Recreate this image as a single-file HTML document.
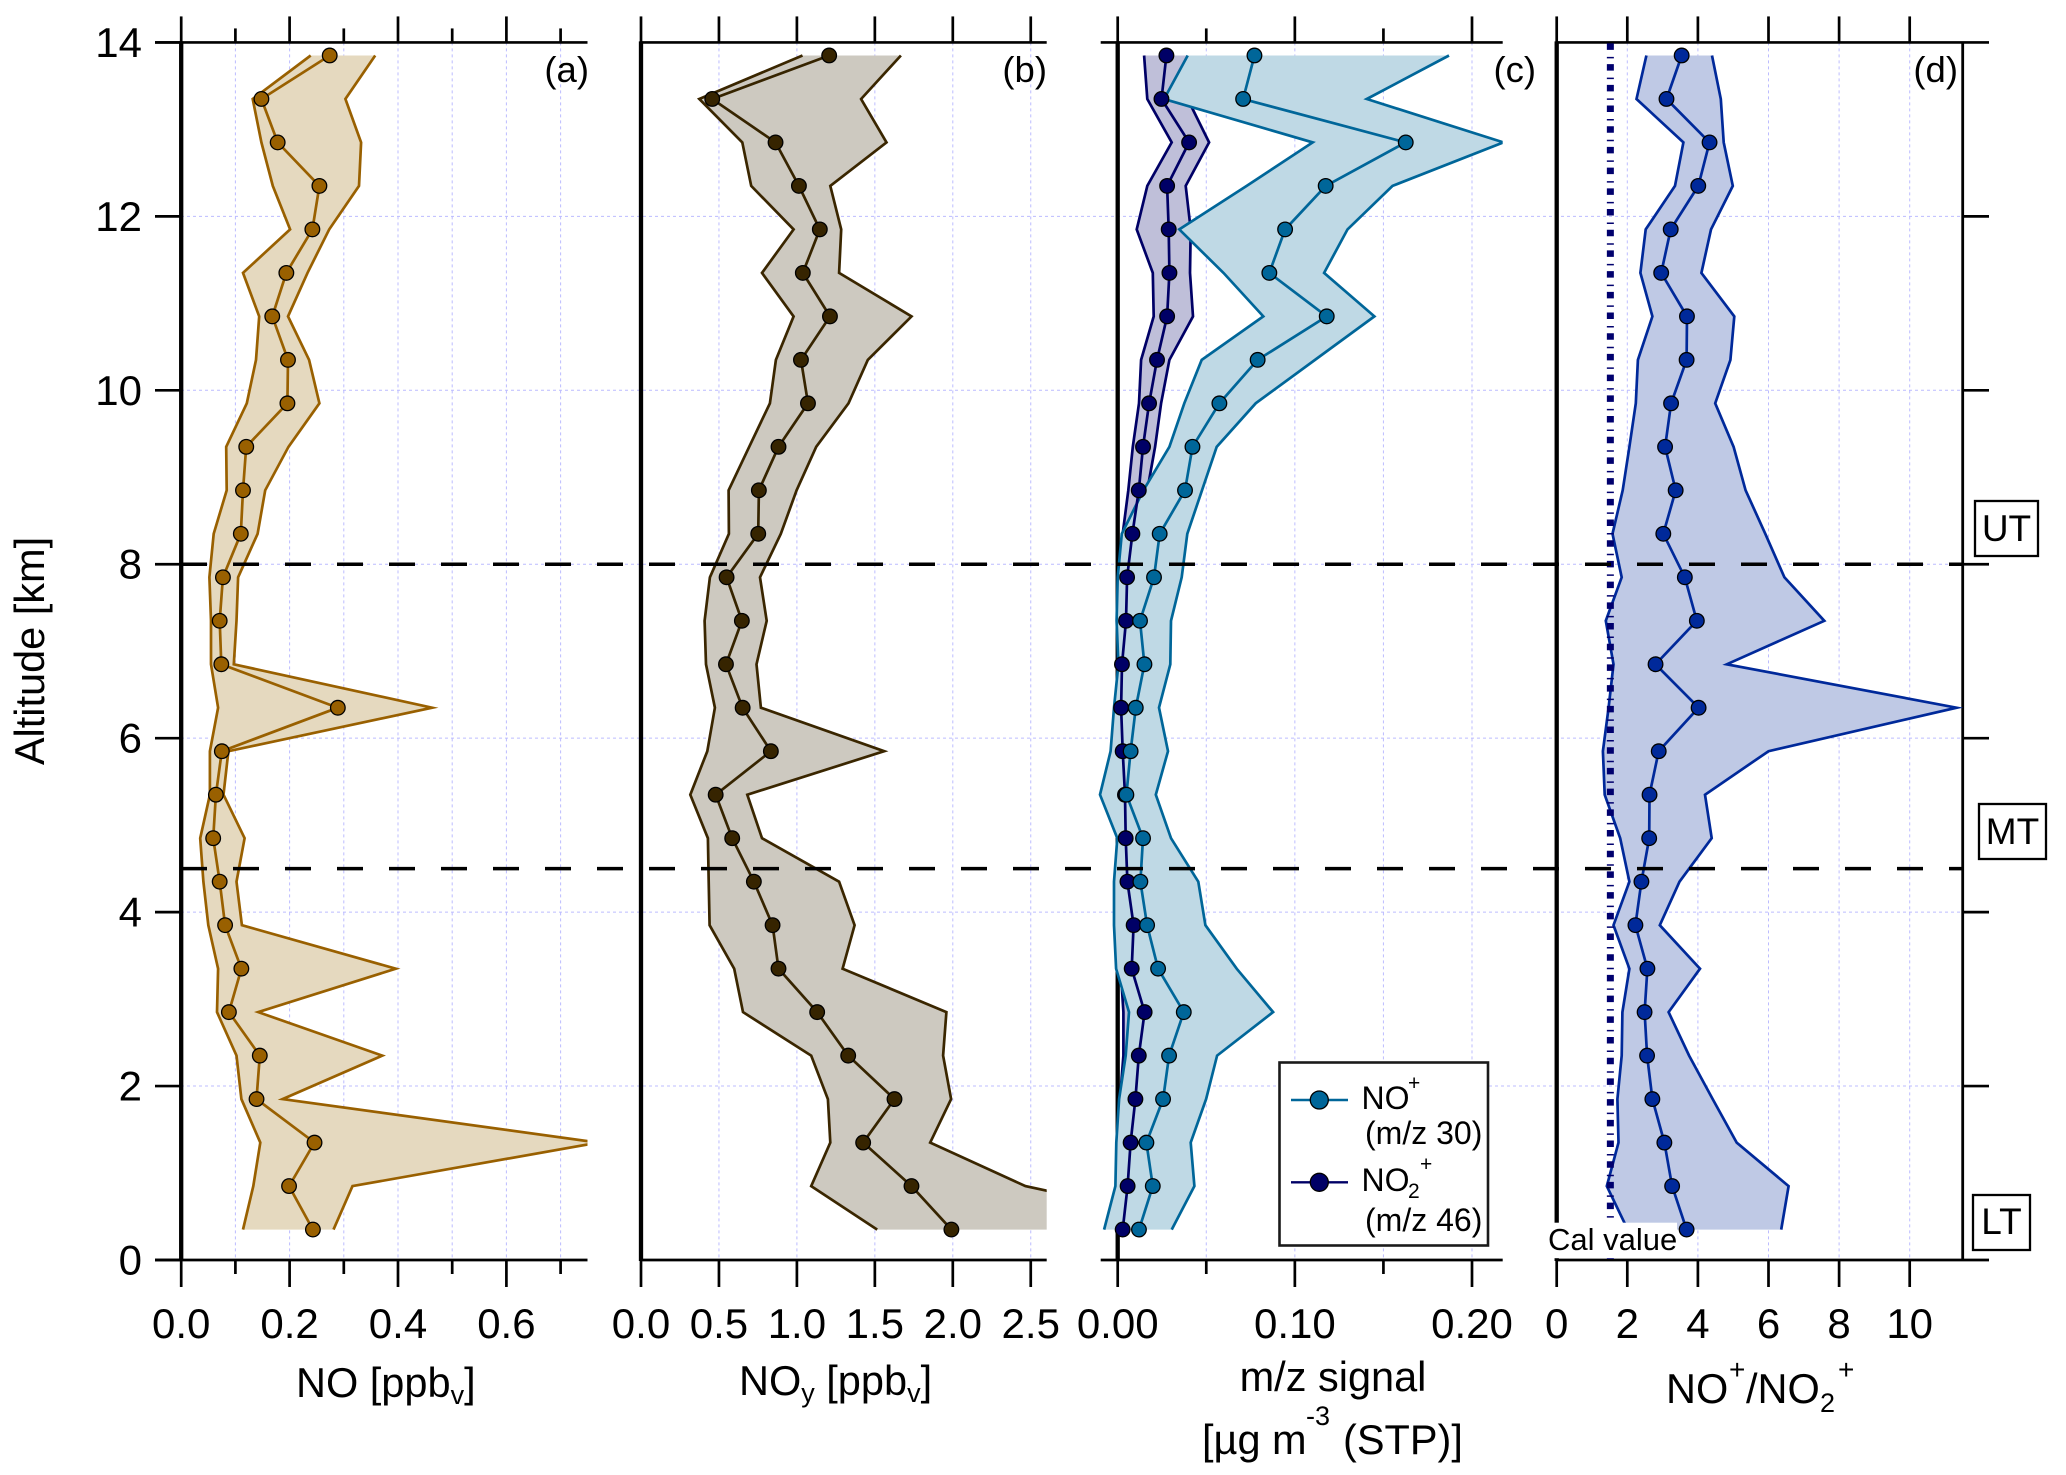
<!DOCTYPE html>
<html lang="en">
<head>
<meta charset="utf-8">
<title>Altitude profiles of NO, NOy, m/z signal and NO+/NO2+</title>
<style>
html,body{margin:0;padding:0;background:#fff;}
svg{display:block;}
text{font-family:"Liberation Sans",Arial,sans-serif;fill:#000;}
</style>
</head>
<body>
<svg id="chart" width="2066" height="1475" viewBox="0 0 2066 1475">
  <defs>
    <clipPath id="clip-a"><rect x="150" y="40" width="437.5" height="1222"/></clipPath>
    <clipPath id="clip-b"><rect x="630" y="40" width="416.7" height="1222"/></clipPath>
    <clipPath id="clip-c"><rect x="1090" y="40" width="412.7" height="1222"/></clipPath>
  </defs>
  <g id="layer-grid"></g>
  <g id="layer-axes"></g>
  <g id="layer-series"></g>
  <g id="layer-top"></g>

  <text transform="translate(44,651) rotate(-90)" text-anchor="middle" font-size="41.5">Altitude [km]</text>

  <text x="296" y="1397" font-size="41.5">NO [ppb<tspan font-size="27" dy="7">v</tspan><tspan dy="-7">]</tspan></text>
  <text x="739" y="1395" font-size="41.5">NO<tspan font-size="27" dy="7">y</tspan><tspan dy="-7"> [ppb</tspan><tspan font-size="27" dy="7">v</tspan><tspan dy="-7">]</tspan></text>
  <text x="1333" y="1391" text-anchor="middle" font-size="41.5">m/z signal</text>
  <text x="1202" y="1454" font-size="41.5">[µg m</text>
  <text x="1306" y="1425" font-size="27">-3</text>
  <text x="1343" y="1454" font-size="41.5">(STP)]</text>
  <text x="1666" y="1403" font-size="41.5">NO</text>
  <text x="1729" y="1379" font-size="28">+</text>
  <text x="1746" y="1403" font-size="41.5">/NO</text>
  <text x="1820" y="1412" font-size="27">2</text>
  <text x="1838" y="1379" font-size="28">+</text>

  <text x="589" y="82" text-anchor="end" font-size="36.5">(a)</text>
  <text x="1047" y="82" text-anchor="end" font-size="36.5">(b)</text>
  <text x="1536" y="82" text-anchor="end" font-size="36.5">(c)</text>
  <text x="1958" y="82" text-anchor="end" font-size="36.5">(d)</text>

  <g>
    <rect x="1975" y="501" width="63" height="55" fill="#fff" stroke="#000" stroke-width="2.3"/>
    <text x="2006.5" y="541" text-anchor="middle" font-size="37">UT</text>
  </g>
  <g>
    <rect x="1979" y="804" width="67" height="55" fill="#fff" stroke="#000" stroke-width="2.3"/>
    <text x="2012.5" y="844" text-anchor="middle" font-size="37">MT</text>
  </g>
  <g>
    <rect x="1973" y="1195" width="57" height="55" fill="#fff" stroke="#000" stroke-width="2.3"/>
    <text x="2001.5" y="1234" text-anchor="middle" font-size="37">LT</text>
  </g>

  <g>
    <rect x="1279.5" y="1062.5" width="208.5" height="183" fill="#fff" stroke="#1a1a1a" stroke-width="2.6"/>
    <g>
      <line x1="1291" y1="1100" x2="1348" y2="1100" stroke="#006699" stroke-width="2.4"/>
      <circle cx="1319.3" cy="1100" r="9" fill="#006699" stroke="#000" stroke-width="1.3"/>
      <text x="1361.5" y="1109" font-size="32">NO</text>
      <text x="1408" y="1090" font-size="21">+</text>
      <text x="1365" y="1144" font-size="32">(m/z 30)</text>
    </g>
    <g>
      <line x1="1291" y1="1182.3" x2="1348" y2="1182.3" stroke="#000066" stroke-width="2.4"/>
      <circle cx="1319.3" cy="1182.3" r="9" fill="#000066" stroke="#000" stroke-width="1.3"/>
      <text x="1361.5" y="1191" font-size="32">NO</text>
      <text x="1408" y="1198" font-size="21">2</text>
      <text x="1420" y="1171" font-size="21">+</text>
      <text x="1365" y="1231" font-size="32">(m/z 46)</text>
    </g>
  </g>
</svg>

<script>
// Altitude bins shared by all panels (km), top to bottom
const altitudeKm = [13.85,13.35,12.85,12.35,11.85,11.35,10.85,10.35,9.85,9.35,8.85,8.35,7.85,7.35,6.85,6.35,5.85,5.35,4.85,4.35,3.85,3.35,2.85,2.35,1.85,1.35,0.85,0.35];
const altitudeTicks = [0,2,4,6,8,10,12,14];
const altitudeGrid = [2,4,6,8,10,12];
const boundaryAltitudes = [8,4.5];

// Panel (a) NO [ppbv]
const noMedian = [.274,.148,.178,.255,.242,.194,.168,.197,.196,.120,.114,.110,.077,.071,.074,.289,.075,.064,.059,.071,.081,.111,.088,.145,.139,.246,.199,.243];
const noLow = [.239,.132,.148,.169,.201,.114,.144,.138,.121,.083,.084,.060,.052,.055,.055,.068,.053,.053,.035,.041,.050,.068,.066,.102,.111,.146,.133,.114];
const noHigh = [.358,.303,.332,.328,.273,.233,.197,.236,.255,.198,.155,.141,.105,.102,.097,.463,.087,.078,.117,.102,.112,.396,.142,.371,.187,.77,.316,.281];
const noMajorTicks = [0,.2,.4,.6];
const noMinorTicks = [.1,.3,.5,.7];
const noTickLabels = ['0.0','0.2','0.4','0.6'];

// Panel (b) NOy [ppbv]
const noyMedian = [1.207,.457,.863,1.013,1.147,1.038,1.212,1.026,1.071,.882,.756,.752,.549,.647,.545,.652,.833,.479,.585,.724,.844,.882,1.130,1.329,1.626,1.425,1.735,1.991];
const noyLow = [1.036,.374,.650,.707,.979,.776,.979,.865,.827,.694,.562,.564,.442,.408,.417,.474,.425,.316,.429,.434,.440,.598,.654,1.092,1.199,1.214,1.092,1.515];
const noyHigh = [1.667,1.412,1.575,1.214,1.284,1.271,1.735,1.455,1.331,1.124,.998,.897,.763,.806,.741,.769,1.560,.682,.776,1.271,1.370,1.293,1.959,1.938,1.989,1.855,2.466,3.76];
const noyMajorTicks = [0,.5,1,1.5,2,2.5];
const noyTickLabels = ['0.0','0.5','1.0','1.5','2.0','2.5'];

// Panel (c) m/z 30 NO+ signal
const mz30Median = [.0772,.0708,.1626,.1174,.0945,.0856,.1180,.0790,.0574,.0422,.0380,.0237,.0205,.0126,.0151,.0102,.0073,.0049,.0143,.0128,.0166,.0228,.0373,.0290,.0256,.0162,.0198,.0120];
const mz30Low = [.0395,.0262,.1101,.0728,.0348,.0597,.0822,.0474,.0376,.0292,.0145,.0023,.0000,-.0006,.0004,-.0021,-.0040,-.0100,-.0002,-.0021,-.0021,-.0009,.0064,.0045,.0008,-.0008,-.0013,-.0077];
const mz30High = [.187,.1406,.2177,.1551,.1297,.1165,.1449,.1114,.0779,.0559,.0476,.0393,.0361,.0301,.0297,.0233,.0284,.0215,.0301,.0455,.0495,.0672,.0877,.0561,.0499,.0412,.0433,.0305];

// Panel (c) m/z 46 NO2+ signal
const mz46Median = [.0275,.0247,.0403,.0279,.0288,.0292,.0279,.0222,.0177,.0143,.0119,.0083,.0053,.0047,.0024,.0019,.0028,.0041,.0045,.0055,.0090,.0079,.0152,.0119,.0100,.0073,.0056,.0028];
const mz46Low = [.0149,.0167,.0305,.0167,.0107,.0198,.0203,.0132,.0120,.0085,.0060,.0028,.0002,.0004,0,0,0,0,.0004,.0004,.0004,.0017,.0032,.0032,.0013,.0004,.0004,.0004];
const mz46High = [.0395,.0395,.0516,.0384,.0412,.0408,.0425,.0292,.0245,.0211,.0167,.0107,.0079,.0079,.0056,.0047,.0056,.007,.0075,.0085,.012,.0113,.0188,.016,.0141,.0113,.0094,.0066];
const mzMajorTicks = [0,.1,.2];
const mzMinorTicks = [.05,.15];
const mzTickLabels = ['0.00','0.10','0.20'];

// Panel (d) NO+/NO2+ ratio
const ratioMedian = [3.54,3.11,4.33,4.01,3.23,2.96,3.69,3.68,3.24,3.07,3.37,3.02,3.63,3.97,2.80,4.02,2.89,2.63,2.62,2.40,2.23,2.57,2.49,2.56,2.71,3.05,3.27,3.68];
const ratioLow = [2.54,2.26,3.59,3.35,2.52,2.37,2.71,2.30,2.24,2.06,1.87,1.58,1.84,1.39,1.61,1.47,1.31,1.36,1.80,2.06,1.61,2.06,1.86,1.84,1.72,1.75,1.42,2.01];
const ratioHigh = [4.40,4.65,4.73,4.99,4.37,4.10,5.03,4.92,4.49,5.01,5.35,5.91,6.45,7.58,4.82,11.33,6.00,4.20,4.39,3.48,2.92,4.06,3.17,3.75,4.42,5.10,6.57,6.36];
const ratioCalValue = 1.52;
const ratioMajorTicks = [0,2,4,6,8,10];
const ratioTickLabels = ['0','2','4','6','8','10'];

// Axis functions
function yScale(km){ return 1260 - 86.97*km; }
function xNO(v){ return 181.2 + 542*v; }
function xNOy(v){ return 641 + 155.9*v; }
function xMz(v){ return 1117.7 + 1771.5*v; }
function xRatio(v){ return 1556.7 + 35.3*v; }

const svg = document.getElementById('chart');
const NS = svg.namespaceURI;
const layerGrid = document.getElementById('layer-grid');
const layerAxes = document.getElementById('layer-axes');
const layerSeries = document.getElementById('layer-series');
const layerTop = document.getElementById('layer-top');

function shape(parent, tag, name){
  const el = document.createElementNS(NS, tag);
  
  
  parent.appendChild(el);
  return el;
}
function seg(parent, name, x1, y1, x2, y2, color, width, dash){
  const el = shape(parent, 'line', name);
  el.setAttribute('x1', x1);
  el.setAttribute('y1', y1);
  el.setAttribute('x2', x2);
  el.setAttribute('y2', y2);
  el.setAttribute('stroke', color);
  el.setAttribute('stroke-width', width);
  if (dash) el.setAttribute('stroke-dasharray', dash);
  return el;
}
function label(parent, name, x, y, anchor, size, str){
  const el = shape(parent, 'text', name);
  el.setAttribute('x', x);
  el.setAttribute('y', y);
  el.setAttribute('text-anchor', anchor);
  el.setAttribute('font-size', size);
  el.textContent = str;
  return el;
}
const yTop = yScale(14), yBot = yScale(0);
const gridColor = '#bcbcff';
const axisWidth = 2.7;

// Horizontal grid and altitude ticks
altitudeGrid.forEach(function(km){
  seg(layerGrid, 'horizontal-grid-' + km, 181, yScale(km), 1963, yScale(km), gridColor, 1, '3 3');
  seg(layerAxes, 'right-tick-' + km, 1963, yScale(km), 1989, yScale(km), '#000', axisWidth);
});
altitudeTicks.forEach(function(km){
  seg(layerAxes, 'left-tick-' + km, 155, yScale(km), 181, yScale(km), '#000', axisWidth);
  label(layerAxes, 'y-tick-label-' + km, 142, yScale(km) + 14.5, 'end', 42, String(km));
});

// Panel frames, ticks, vertical grid
function drawPanel(id, xFn, axisLeft, axisRight, majors, minors, labels){
  const x0 = xFn(0);
  seg(layerAxes, id + '-top-axis', axisLeft, yTop, axisRight, yTop, '#000', axisWidth);
  seg(layerAxes, id + '-bottom-axis', axisLeft, yBot, axisRight, yBot, '#000', axisWidth);
  seg(layerAxes, id + '-zero-axis', x0, yTop - 1, x0, yBot + 1, '#000', 4.3);
  majors.forEach(function(v, i){
    const x = xFn(v);
    if (v !== 0) seg(layerGrid, id + '-vertical-grid-' + v, x, yTop, x, yBot, gridColor, 1, '3 3');
    seg(layerAxes, id + '-top-tick-' + v, x, yTop - 26, x, yTop, '#000', axisWidth);
    seg(layerAxes, id + '-bottom-tick-' + v, x, yBot, x, yBot + 27, '#000', axisWidth);
    label(layerAxes, id + '-x-tick-label-' + v, x, 1338, 'middle', 42, labels[i]);
  });
  minors.forEach(function(v){
    const x = xFn(v);
    seg(layerGrid, id + '-vertical-grid-' + v, x, yTop, x, yBot, gridColor, 1, '3 3');
    seg(layerAxes, id + '-top-minor-tick-' + v, x, yTop - 14, x, yTop, '#000', axisWidth);
    seg(layerAxes, id + '-bottom-minor-tick-' + v, x, yBot, x, yBot + 14, '#000', axisWidth);
  });
}
drawPanel('panel-a', xNO, 155, 587.5, noMajorTicks, noMinorTicks, noTickLabels);
drawPanel('panel-b', xNOy, 641, 1046.7, noyMajorTicks, [], noyTickLabels);
drawPanel('panel-c', xMz, 1100.7, 1502.7, mzMajorTicks, mzMinorTicks, mzTickLabels);
drawPanel('panel-d', xRatio, 1556.7, 1989, ratioMajorTicks, [], ratioTickLabels);
seg(layerAxes, 'panel-d-right-axis', 1962.7, yTop, 1962.7, yBot, '#000', 2.8);

function pts(xFn, values){
  return values.map(function(v, i){ return xFn(v).toFixed(1) + ',' + yScale(altitudeKm[i]).toFixed(1); });
}
function drawBand(id, xFn, low, high, fill, stroke, clip){
  const g = shape(layerSeries, 'g', id + '-band');
  if (clip) g.setAttribute('clip-path', 'url(#' + clip + ')');
  const poly = shape(g, 'polygon', id + '-band-fill');
  poly.setAttribute('points', pts(xFn, high).concat(pts(xFn, low).reverse()).join(' '));
  poly.setAttribute('fill', fill);
  [['low', low], ['high', high]].forEach(function(b){
    const line = shape(g, 'polyline', id + '-band-' + b[0]);
    line.setAttribute('points', pts(xFn, b[1]).join(' '));
    line.setAttribute('fill', 'none');
    line.setAttribute('stroke', stroke);
    line.setAttribute('stroke-width', 2.7);
    line.setAttribute('stroke-miterlimit', 12);
  });
}
function drawCenter(id, xFn, values, color){
  const g = shape(layerSeries, 'g', id + '-profile');
  const line = shape(g, 'polyline', id + '-median-line');
  line.setAttribute('points', pts(xFn, values).join(' '));
  line.setAttribute('fill', 'none');
  line.setAttribute('stroke', color);
  line.setAttribute('stroke-width', 2.7);
  values.forEach(function(v, i){
    const c = shape(g, 'circle', id + '-point');
    c.setAttribute('cx', xFn(v));
    c.setAttribute('cy', yScale(altitudeKm[i]));
    c.setAttribute('r', 7.3);
    c.setAttribute('fill', color);
    c.setAttribute('stroke', '#000');
    c.setAttribute('stroke-width', 1.3);
  });
}

// Panel (a)
drawBand('no', xNO, noLow, noHigh, '#e5d9bf', '#996000', 'clip-a');
drawCenter('no', xNO, noMedian, '#996000');
// Panel (b)
drawBand('noy', xNOy, noyLow, noyHigh, '#cdc9c0', '#3a2600', 'clip-b');
drawCenter('noy', xNOy, noyMedian, '#362400');
// Panel (c)
drawBand('mz46', xMz, mz46Low, mz46High, '#bfbfd9', '#000066', 'clip-c');
drawBand('mz30', xMz, mz30Low, mz30High, '#bfd9e5', '#006699', 'clip-c');
drawCenter('mz46', xMz, mz46Median, '#000066');
drawCenter('mz30', xMz, mz30Median, '#006699');
// Panel (d)
drawBand('ratio', xRatio, ratioLow, ratioHigh, '#bfc9e5', '#00299a', null);
seg(layerSeries, 'calibration-value-line', xRatio(ratioCalValue), yTop + 1, xRatio(ratioCalValue), yBot - 1, '#00006e', 7, '6.5 7 1.5 5.7');
const calBox = shape(layerSeries, 'rect', 'calibration-label-background');
calBox.setAttribute('x', 1546);
calBox.setAttribute('y', 1222.7);
calBox.setAttribute('width', 131);
calBox.setAttribute('height', 35.5);
calBox.setAttribute('fill', '#fff');
label(layerSeries, 'calibration-label', 1548, 1250, 'start', 31, 'Cal value');
drawCenter('ratio', xRatio, ratioMedian, '#00299a');

// Altitude boundaries
boundaryAltitudes.forEach(function(km){
  seg(layerTop, 'boundary-line-' + km, 181, yScale(km), 1963, yScale(km), '#000', 3.4, '26 26');
});
</script>
</body>
</html>
